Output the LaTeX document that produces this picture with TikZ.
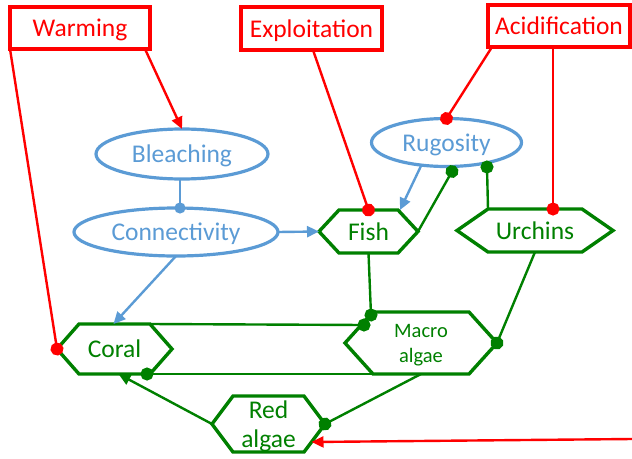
\documentclass[tikz,border=0pt]{standalone}
\usepackage{fontspec}
\setmainfont{Carlito}
\usetikzlibrary{arrows.meta,shapes.geometric,calc}
\definecolor{hazard}{HTML}{FF0000}
\definecolor{proc}{HTML}{5B9BD5}
\definecolor{biota}{HTML}{008000}

% hexagonal outline around a rectangular node: #1 node name, #2 corner inset
\newcommand\hexoutline[2]{%
  \draw[hexline] (#1.west) -- ([xshift=#2pt]#1.north west) -- ([xshift=-#2pt]#1.north east)
    -- (#1.east) -- ([xshift=-#2pt]#1.south east) -- ([xshift=#2pt]#1.south west) -- cycle;}

\begin{document}
\begin{tikzpicture}[x=1pt,y=-1pt, inner sep=0pt, outer sep=0pt, text depth=0pt,
  drvbox/.style={draw=hazard, line width=3.4pt, text=hazard, font=\fontsize{25.5}{29}\selectfont},
  procoval/.style={ellipse, draw=proc, line width=3.2pt, text=proc, font=\fontsize{25.5}{29}\selectfont},
  taxonlbl/.style={text=biota, font=\fontsize{25.5}{29}\selectfont, align=center},
  hexline/.style={draw=biota, line width=3.4pt, line join=miter},
  redlink/.style={draw=hazard, line width=2.4pt},
  bluelink/.style={draw=proc, line width=2.4pt},
  greenlink/.style={draw=biota, line width=2.4pt},
  arrowhd/.style={-{Triangle[length=12pt,width=11pt]}},
  dotend/.style={-{Circle[length=13pt]}, shorten >=-6.5pt},
  smalldot/.style={-{Circle[length=11pt]}, shorten >=-5.5pt},
]
\useasboundingbox (0,0) rectangle (632,458);

% pressures
\node[drvbox, minimum width=140pt, minimum height=42pt] (warm) at (80,28) {Warming};
\node[drvbox, minimum width=141pt, minimum height=43pt] (expl) at (311.5,28.5) {Exploitation};
\node[drvbox, minimum width=142pt, minimum height=42pt] (acid) at (559,26) {Acidification};

% processes
\node[procoval, minimum width=172pt, minimum height=50pt] (bleach) at (182,154) {Bleaching};
\node[procoval, minimum width=204pt, minimum height=48pt] (conn) at (176,232) {Connectivity};
\node[procoval, minimum width=150pt, minimum height=48pt] (rug) at (446.5,142.5) {Rugosity};

% reef organisms
\node[taxonlbl, minimum width=99pt, minimum height=43pt] (fish) at (368.5,231.5) {Fish};
\node[taxonlbl, minimum width=156pt, minimum height=43pt] (urch) at (535,230.5) {Urchins};
\node[taxonlbl, minimum width=115pt, minimum height=50pt] (coral) at (114.5,349) {Coral};
\node[taxonlbl, minimum width=152pt, minimum height=62pt, font=\fontsize{20.5}{25}\selectfont] (macro) at (421,343) {Macro\\algae};
\node[taxonlbl, minimum width=113pt, minimum height=56pt] (redalg) at (268.5,424) {Red\\algae};

\hexoutline{fish}{20}
\hexoutline{urch}{31}
\hexoutline{coral}{22}
\hexoutline{macro}{28}
\hexoutline{redalg}{21}

% pressure links
\draw[redlink, arrowhd] ([xshift=-5pt]warm.south east) -- (bleach.north);
\draw[redlink, dotend] (warm.south west) -- (coral.west);
\draw[redlink, dotend] ([xshift=1.5pt]expl.south) -- (fish.north);
\draw[redlink, dotend] ([xshift=4pt]acid.south west) -- (rug.north);
\draw[redlink, dotend] ([xshift=-6pt]acid.south) -- ([xshift=18pt]urch.north);
\coordinate (offright) at (632,439);
\draw[redlink, arrowhd] (offright) -- ([xshift=43pt,yshift=-18pt]redalg.center);

% process links
\draw[bluelink, smalldot] ([xshift=-2pt]bleach.south) -- ([xshift=4pt]conn.north);
\draw[bluelink, arrowhd] (conn.east) -- (fish.west);
\draw[bluelink, arrowhd] (conn.south) -- ([xshift=-1pt]coral.north);
\draw[bluelink, arrowhd] (rug.222) -- ([xshift=-18pt]fish.north east);

% ecological interactions
\draw[greenlink, dotend] (fish.east) -- ([xshift=5.5pt,yshift=-5pt]rug.south);
\draw[greenlink, dotend] ([xshift=31pt]urch.north west) -- ([xshift=40.5pt,yshift=-24.5pt]rug.center);
\draw[greenlink, dotend] (fish.south) -- ([xshift=-50pt,yshift=-3pt]macro.north);
\draw[greenlink, dotend] ([xshift=-22pt]coral.north east) -- ([xshift=19pt,yshift=-13pt]macro.north west);
\draw[greenlink, dotend] ([xshift=28pt]macro.south west) -- ([xshift=-25pt]coral.south east);
\draw[greenlink, dotend] (urch.south) -- (macro.east);
\draw[greenlink, dotend] (macro.south) -- (redalg.east);
\draw[greenlink, arrowhd] (redalg.west) -- ([xshift=4pt]coral.south);
\end{tikzpicture}
\end{document}
